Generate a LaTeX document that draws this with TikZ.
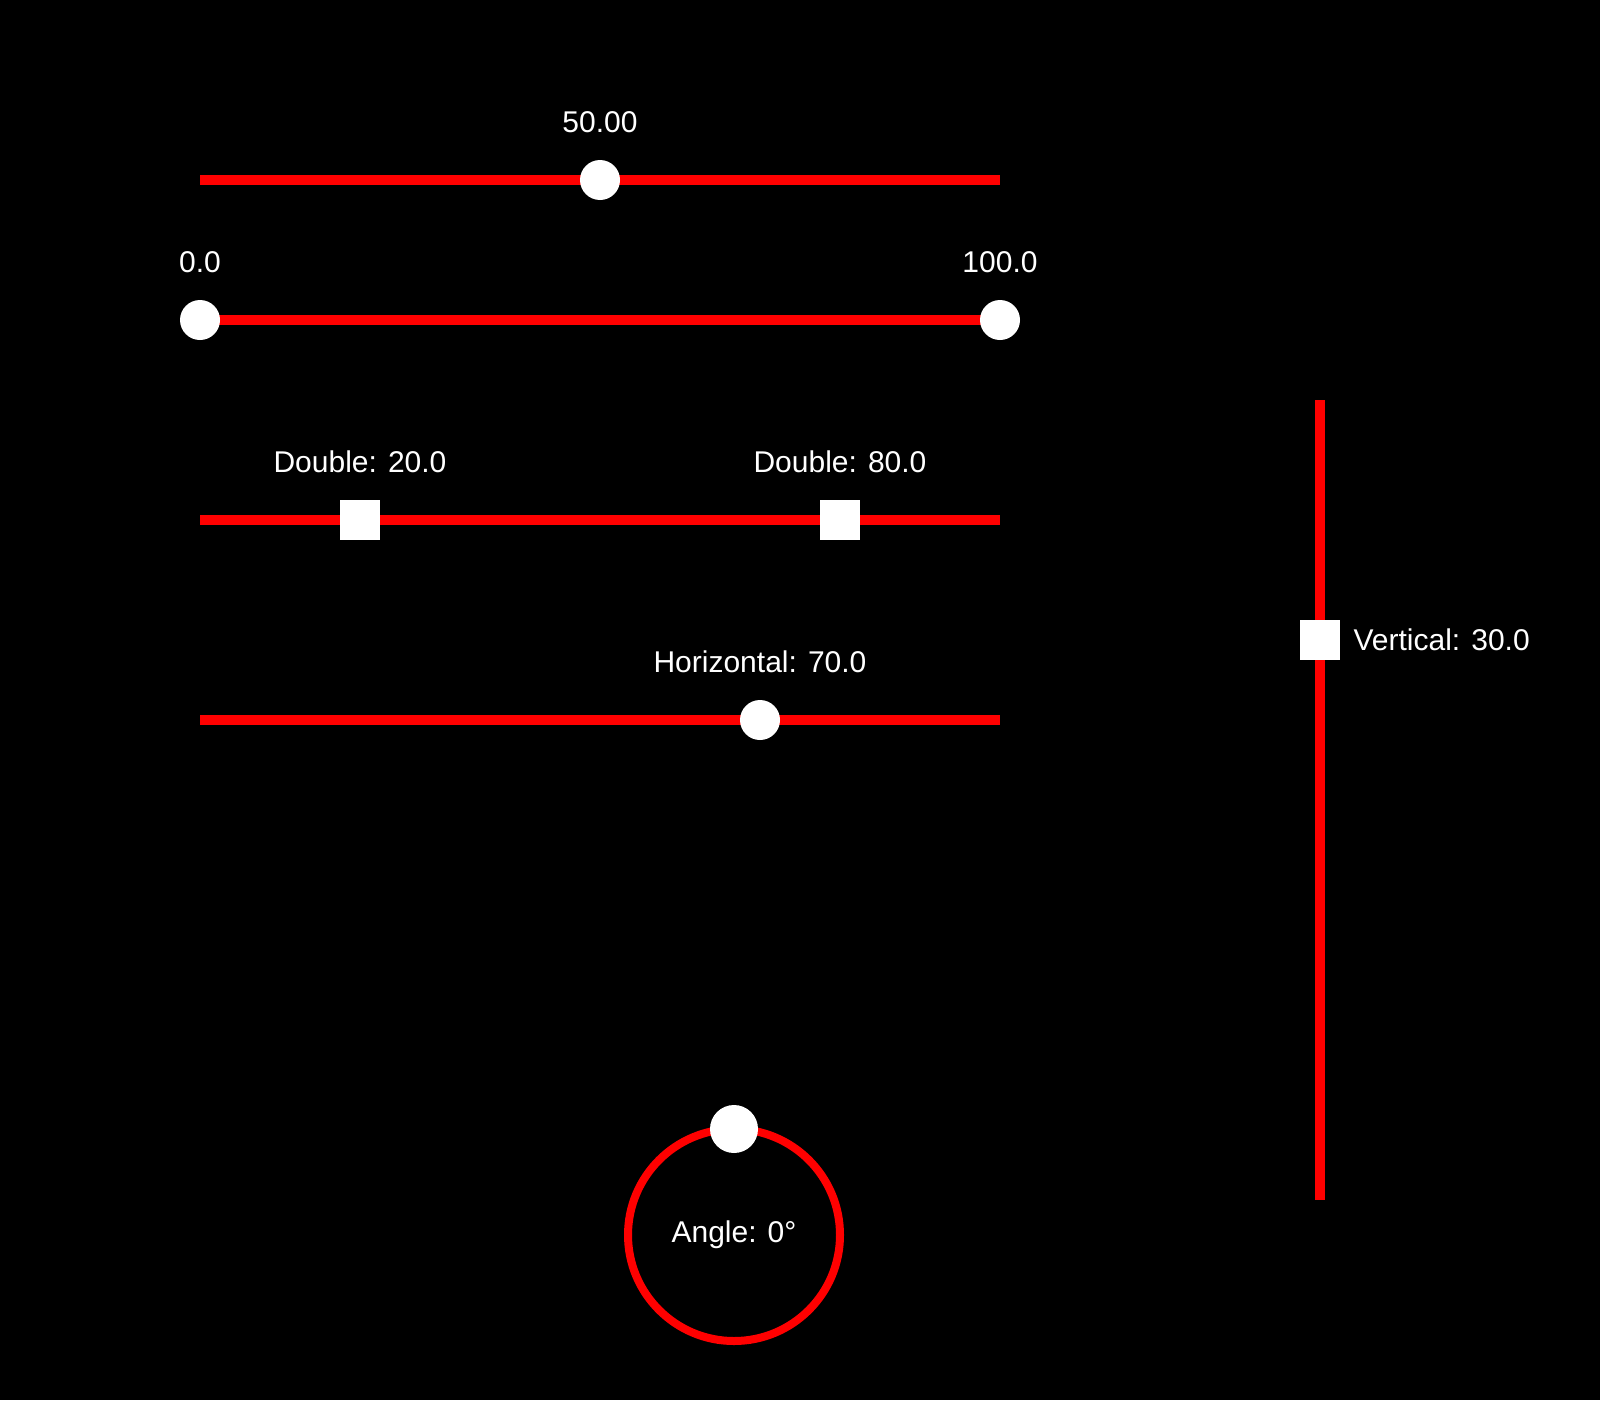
\documentclass[tikz,border=0pt]{standalone}
\usepackage{fontspec}
\setmainfont{Liberation Sans}
\begin{document}
\begin{tikzpicture}[x=1pt,y=-1pt,
 track/.style={draw=red,line width=10pt},
 rk/.style={circle,fill=white,minimum size=40pt,inner sep=0},
 sk/.style={rectangle,fill=white,minimum size=40pt,inner sep=0},
 lbl/.style={text=white,font=\fontsize{30}{32}\selectfont}]
\fill[black] (0,0) rectangle (1600,1400);
\useasboundingbox (0,0) rectangle (1600,1400);
% slider 1
\coordinate (a1) at (200,180); \coordinate (b1) at (1000,180);
\draw[track] (a1) -- (b1);
\node[rk] (k1) at (600,180) {};
\node[lbl] (t1) at (600,122) {50.00};
% slider 2
\node[lbl] (t2a) at (200,262) {0.0};
\node[lbl] (t2b) at (1000,262) {100.0};
\coordinate (a2) at (200,320); \coordinate (b2) at (1000,320);
\draw[track] (a2) -- (b2);
\node[rk] (k2a) at (200,320) {};
\node[rk] (k2b) at (1000,320) {};
% slider 3
\coordinate (a3) at (200,520); \coordinate (b3) at (1000,520);
\draw[track] (a3) -- (b3);
\node[sk] (k3a) at (360,520) {};
\node[sk] (k3b) at (840,520) {};
\node[lbl] (t3a) at (360,462) {Double: 20.0};
\node[lbl] (t3b) at (840,462) {Double: 80.0};
% slider 4
\coordinate (a4) at (200,720); \coordinate (b4) at (1000,720);
\draw[track] (a4) -- (b4);
\node[rk] (k4) at (760,720) {};
\node[lbl] (t4) at (760,662) {Horizontal: 70.0};
% vertical
\coordinate (a5) at (1320,400); \coordinate (b5) at (1320,1200);
\draw[track] (a5) -- (b5);
\node[sk] (k5) at (1320,640) {};
\node[lbl,anchor=west] (t5) at (1350,640) {Vertical: 30.0};
% angle
\coordinate (c6) at (734,1235);
\draw[red,line width=8pt] (c6) circle[radius=106];
\node[rk,minimum size=48pt] (k6) at (734,1129) {};
\node[lbl] (t6) at (734,1235) {Angle: 0°};
\end{tikzpicture}
\end{document}
